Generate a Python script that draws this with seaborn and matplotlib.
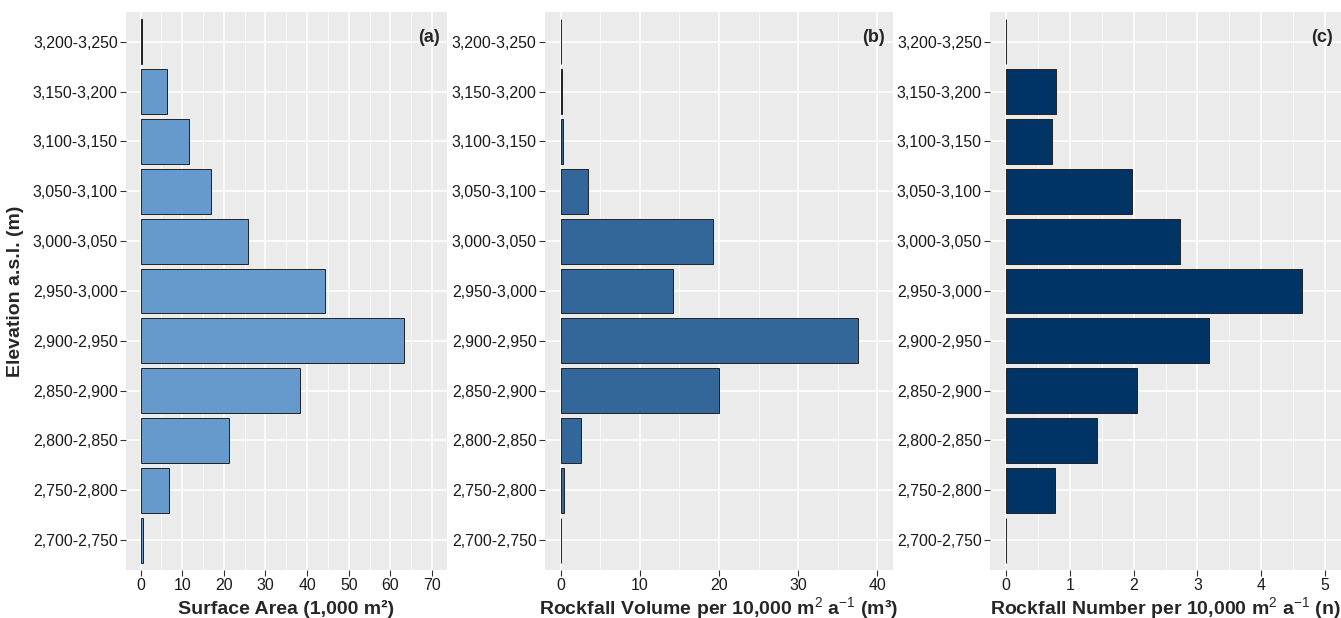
import numpy as np
import pandas as pd
import seaborn as sns
import matplotlib.pyplot as plt
from matplotlib.ticker import MultipleLocator

# Elevation bands (top to bottom as in the figure)
elevation = ["3,200-3,250", "3,150-3,200", "3,100-3,150", "3,050-3,100",
             "3,000-3,050", "2,950-3,000", "2,900-2,950", "2,850-2,900",
             "2,800-2,850", "2,750-2,800", "2,700-2,750"]

# Surface area (1,000 m2)
surface_area = [0.3, 6.4, 11.7, 16.9, 25.8, 44.4, 63.2, 38.2, 21.2, 6.7, 0.5]
# Rockfall volume per 10,000 m2 a-1 (m3)
rockfall_volume = [0.05, 0.15, 0.25, 3.5, 19.2, 14.2, 37.6, 20.0, 2.5, 0.4, 0.05]
# Rockfall number per 10,000 m2 a-1 (n)
rockfall_number = [0.0, 0.78, 0.72, 1.97, 2.72, 4.64, 3.18, 2.06, 1.43, 0.77, 0.0]

sns.set_style("darkgrid")
plt.rcParams['font.family'] = ['Liberation Sans', 'DejaVu Sans']
plt.rcParams['mathtext.fontset'] = 'custom'
plt.rcParams['mathtext.rm'] = 'Liberation Sans'
plt.rcParams['mathtext.bf'] = 'Liberation Sans:bold'
plt.rcParams['mathtext.default'] = 'regular'

df = pd.DataFrame({'elevation': elevation, 'area': surface_area,
                   'volume': rockfall_volume, 'number': rockfall_number})

fig = plt.figure(figsize=(13.41, 6.18), dpi=100)
positions = [[0.094, 0.0777, 0.239, 0.903],
             [0.4064, 0.0777, 0.2595, 0.903],
             [0.7383, 0.0777, 0.2617, 0.903]]

panels = [
    ('area', '#6699CC', 'Surface Area (1,000 m²)', (-3.5, 73.5), 10, 5, '(a)'),
    ('volume', '#336699', r'Rockfall Volume per 10,000 m$^{\mathrm{2}}$ a$^{\mathrm{-1}}$ (m³)', (-2, 42), 10, 5, '(b)'),
    ('number', '#003366', r'Rockfall Number per 10,000 m$^{\mathrm{2}}$ a$^{\mathrm{-1}}$ (n)', (-0.25, 5.25), 1, 0.5, '(c)'),
]

for pos, (col, color, xlab, xlim, major, minor, tag) in zip(positions, panels):
    ax = fig.add_axes(pos)
    sns.barplot(data=df, x=col, y='elevation', order=elevation, orient='h',
                color=color, saturation=1, width=0.9, edgecolor='#222222',
                linewidth=0.7, ax=ax)
    ax.set_facecolor('#EBEBEB')
    ax.set_xlim(*xlim)
    ax.set_ylim(len(elevation) - 0.4, -0.6)
    ax.xaxis.set_major_locator(MultipleLocator(major))
    ax.xaxis.set_minor_locator(MultipleLocator(minor))
    ax.set_axisbelow(True)
    ax.grid(which='major', color='white', linewidth=1.1)
    ax.grid(which='minor', axis='x', color='white', linewidth=0.5)
    for s in ax.spines.values():
        s.set_visible(False)
    ax.tick_params(which='major', bottom=True, left=True, length=4, width=0.8,
                   color='#333333', labelsize=11.4, labelcolor='#1a1a1a', pad=2)
    ax.tick_params(which='minor', bottom=False, left=False, length=0)
    ax.set_ylabel('')
    ax.text(0.978, 0.955, tag, transform=ax.transAxes, ha='right', va='center',
            fontsize=13, fontweight='bold')
    if tag == '(a)':
        ax.set_xlabel(xlab, fontsize=14, fontweight='bold', labelpad=5)
        ax.set_ylabel('Elevation a.s.l. (m)', fontsize=14, fontweight='bold', labelpad=6)
    else:
        ax.set_xlabel(xlab, fontsize=14, fontweight='bold', labelpad=1)

fig.savefig('out.png', dpi=100)
